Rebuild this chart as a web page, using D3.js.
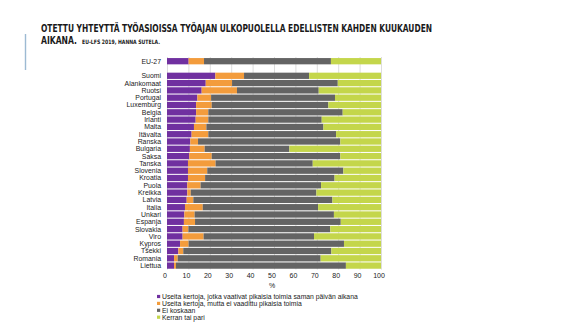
<!DOCTYPE html>
<html><head><meta charset="utf-8">
<script src="https://cdn.jsdelivr.net/npm/d3@7"></script>
<style>
html,body{margin:0;padding:0;background:#fff;}
svg{display:block;}
</style></head>
<body>
<script>
const categories = ["EU-27","Suomi","Alankomaat","Ruotsi","Portugal","Luxemburg","Belgia","Irlanti","Malta","Itävalta","Ranska","Bulgaria","Saksa","Tanska","Slovenia","Kroatia","Puola","Kreikka","Latvia","Italia","Unkari","Espanja","Slovakia","Viro","Kypros","Tšekki","Romania","Liettua"];
const usKiire  = [10.1,22.6,18.1,16.2,14.2,13.6,13.6,13.4,12.6,11.5,10.9,10.7,10.4,9.8,9.8,9.8,9.5,9.5,9.2,8.4,8.1,7.9,7.3,7.3,6.1,5.3,3.3,3.3];
const usEiKiire= [7.2,13.4,12.3,16.5,6.4,7.3,5.7,5.9,5.8,7.8,3.6,6.9,10.5,12.9,9.0,8.0,6.2,1.6,3.1,8.3,4.8,5.2,2.7,9.8,4.0,2.3,1.7,0.9];
const eiKoskaan= [59.3,30.4,49.4,38.2,57.9,54.5,62.8,53.0,54.7,59.7,66.5,39.6,60.1,45.4,63.6,60.5,56.3,58.7,65.0,53.9,65.1,68.1,66.3,51.6,72.6,69.2,66.8,79.4];
const kerran   = [23.4,33.6,20.2,29.1,21.5,24.6,17.9,27.7,26.9,21.0,19.0,42.8,19.0,31.9,17.6,21.7,28.0,30.2,22.7,29.4,22.0,18.8,23.7,31.3,17.3,23.2,28.2,16.4];
const seriesNames = ["Useita kertoja, jotka vaativat pikaisia toimia saman päivän aikana","Useita kertoja, mutta ei vaadittu pikaisia toimia","Ei koskaan","Kerran tai pari"];
const xTicks = [0,10,20,30,40,50,60,70,80,90,100];
const colors = ["#7030a0","#f39c3c","#646464","#c4d64b"];

const W=567,H=322;
const svg=d3.select("body").append("svg").attr("width",W).attr("height",H);

// left accent line
svg.append("line").attr("x1",25.5).attr("x2",25.5).attr("y1",34).attr("y2",70)
  .attr("stroke","#9dbad3").attr("stroke-width",1.4);

// title
const tf='"Liberation Sans Narrow","DejaVu Sans Condensed","Liberation Sans",sans-serif';
svg.append("text").attr("x",41).attr("y",31.5).attr("font-family",tf).attr("font-weight","bold")
  .attr("font-size",10.6).attr("fill","#1a1a1a").attr("textLength",391).attr("lengthAdjust","spacingAndGlyphs")
  .text("OTETTU YHTEYTTÄ TYÖASIOISSA TYÖAJAN ULKOPUOLELLA EDELLISTEN KAHDEN KUUKAUDEN");
svg.append("text").attr("x",41).attr("y",43.5).attr("font-family",tf).attr("font-weight","bold")
  .attr("font-size",10.6).attr("fill","#1a1a1a").attr("textLength",36).attr("lengthAdjust","spacingAndGlyphs")
  .text("AIKANA.");
svg.append("text").attr("x",82).attr("y",43.5).attr("font-family",tf).attr("font-weight","bold")
  .attr("font-size",6).attr("fill","#1a1a1a").attr("textLength",78).attr("lengthAdjust","spacingAndGlyphs")
  .text("EU-LFS 2019, HANNA SUTELA.");

const domain=[categories[0]," ",...categories.slice(1)];
const x=d3.scaleLinear().domain([0,100]).range([167,381]);
const y=d3.scaleBand().domain(domain).range([57.55,269.25]).paddingInner(0.14).paddingOuter(0.07);

const ff='"Liberation Sans",Arial,sans-serif';

// gridlines
svg.append("g").selectAll("line").data(xTicks).join("line")
  .attr("x1",d=>x(d)+0.5).attr("x2",d=>x(d)+0.5).attr("y1",57).attr("y2",269.5)
  .attr("stroke","#d4d4d4").attr("stroke-width",0.8);

const table=categories.map((c,i)=>({cat:c,s0:usKiire[i],s1:usEiKiire[i],s2:eiKoskaan[i],s3:kerran[i]}));
const stack=d3.stack().keys(["s0","s1","s2","s3"])(table);

svg.append("g").selectAll("g").data(stack).join("g").attr("fill",(d,i)=>colors[i])
  .selectAll("rect").data(d=>d).join("rect")
  .attr("x",d=>x(d[0])).attr("width",d=>x(Math.min(100,d[1]))-x(d[0]))
  .attr("y",d=>y(d.data.cat)).attr("height",y.bandwidth());

// category labels
svg.append("g").selectAll("text").data(categories).join("text")
  .attr("x",161).attr("y",d=>y(d)+y.bandwidth()/2).attr("dy","0.35em")
  .attr("text-anchor","end").attr("font-family",ff).attr("font-size",6.9).attr("fill","#222")
  .text(d=>d);

// x tick labels
svg.append("g").selectAll("text").data(xTicks).join("text")
  .attr("x",d=>x(d)-2).attr("y",277.5).attr("text-anchor","middle")
  .attr("font-family",ff).attr("font-size",7).attr("fill","#222").text(d=>d);
svg.append("text").attr("x",272).attr("y",287.5).attr("text-anchor","middle")
  .attr("font-family",ff).attr("font-size",7).attr("fill","#222").text("%");

// legend
const lg=svg.append("g").selectAll("g").data(seriesNames).join("g")
  .attr("transform",(d,i)=>`translate(157,${296.5+i*6.9})`);
lg.append("rect").attr("x",0).attr("y",-1.6).attr("width",3.2).attr("height",3.2).attr("fill",(d,i)=>colors[i]);
lg.append("text").attr("x",5).attr("y",0).attr("dy","0.35em").attr("font-family",ff)
  .attr("font-size",6.8).attr("fill","#222").text(d=>d);
</script>
</body></html>
